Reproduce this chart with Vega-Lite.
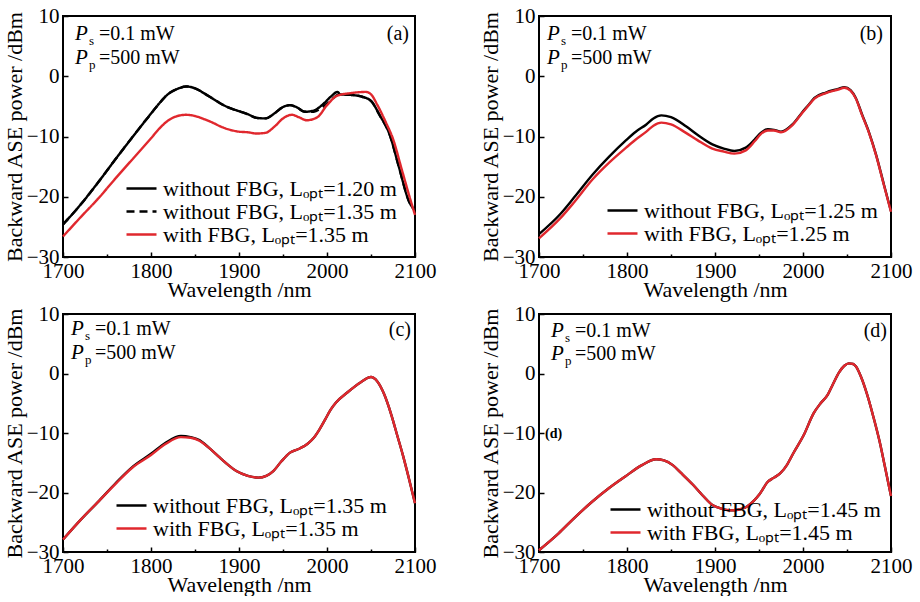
{
"$schema": "https://vega.github.io/schema/vega-lite/v6.json",
"padding": {"left": 2, "top": 4, "right": 0, "bottom": 0},
"bounds": "flush",
"columns": 2,
"spacing": {"row": 57, "column": 124},
"datasets": {
"a": [
{"series":"without FBG, Lₒₚₜ=1.20 m","wl":1700,"p":-24.6},{"series":"without FBG, Lₒₚₜ=1.20 m","wl":1720,"p":-21.3},{"series":"without FBG, Lₒₚₜ=1.20 m","wl":1740,"p":-17.6},{"series":"without FBG, Lₒₚₜ=1.20 m","wl":1760,"p":-13.7},{"series":"without FBG, Lₒₚₜ=1.20 m","wl":1780,"p":-9.9},{"series":"without FBG, Lₒₚₜ=1.20 m","wl":1800,"p":-6.2},{"series":"without FBG, Lₒₚₜ=1.20 m","wl":1810,"p":-4.4},{"series":"without FBG, Lₒₚₜ=1.20 m","wl":1820,"p":-2.9},{"series":"without FBG, Lₒₚₜ=1.20 m","wl":1830,"p":-2.1},{"series":"without FBG, Lₒₚₜ=1.20 m","wl":1840,"p":-1.7},{"series":"without FBG, Lₒₚₜ=1.20 m","wl":1850,"p":-2.0},{"series":"without FBG, Lₒₚₜ=1.20 m","wl":1860,"p":-2.8},{"series":"without FBG, Lₒₚₜ=1.20 m","wl":1870,"p":-3.7},{"series":"without FBG, Lₒₚₜ=1.20 m","wl":1880,"p":-4.6},{"series":"without FBG, Lₒₚₜ=1.20 m","wl":1890,"p":-5.3},{"series":"without FBG, Lₒₚₜ=1.20 m","wl":1900,"p":-5.8},{"series":"without FBG, Lₒₚₜ=1.20 m","wl":1910,"p":-6.3},{"series":"without FBG, Lₒₚₜ=1.20 m","wl":1920,"p":-6.9},{"series":"without FBG, Lₒₚₜ=1.20 m","wl":1930,"p":-7.0},{"series":"without FBG, Lₒₚₜ=1.20 m","wl":1940,"p":-6.2},{"series":"without FBG, Lₒₚₜ=1.20 m","wl":1950,"p":-5.1},{"series":"without FBG, Lₒₚₜ=1.20 m","wl":1958,"p":-4.8},{"series":"without FBG, Lₒₚₜ=1.20 m","wl":1965,"p":-5.1},{"series":"without FBG, Lₒₚₜ=1.20 m","wl":1975,"p":-5.9},{"series":"without FBG, Lₒₚₜ=1.20 m","wl":1985,"p":-5.7},{"series":"without FBG, Lₒₚₜ=1.20 m","wl":1995,"p":-4.7},{"series":"without FBG, Lₒₚₜ=1.20 m","wl":2005,"p":-3.3},{"series":"without FBG, Lₒₚₜ=1.20 m","wl":2012,"p":-2.6},{"series":"without FBG, Lₒₚₜ=1.20 m","wl":2015,"p":-3.0},{"series":"without FBG, Lₒₚₜ=1.20 m","wl":2027,"p":-3.1},{"series":"without FBG, Lₒₚₜ=1.20 m","wl":2040,"p":-3.4},{"series":"without FBG, Lₒₚₜ=1.20 m","wl":2050,"p":-4.1},{"series":"without FBG, Lₒₚₜ=1.20 m","wl":2060,"p":-6.5},{"series":"without FBG, Lₒₚₜ=1.20 m","wl":2071,"p":-9.6},{"series":"without FBG, Lₒₚₜ=1.20 m","wl":2082,"p":-15.2},{"series":"without FBG, Lₒₚₜ=1.20 m","wl":2093,"p":-20.7},{"series":"without FBG, Lₒₚₜ=1.20 m","wl":2100,"p":-22.3},
{"series":"without FBG, Lₒₚₜ=1.35 m","wl":1700,"p":-24.6},{"series":"without FBG, Lₒₚₜ=1.35 m","wl":1720,"p":-21.3},{"series":"without FBG, Lₒₚₜ=1.35 m","wl":1740,"p":-17.6},{"series":"without FBG, Lₒₚₜ=1.35 m","wl":1760,"p":-13.7},{"series":"without FBG, Lₒₚₜ=1.35 m","wl":1780,"p":-9.9},{"series":"without FBG, Lₒₚₜ=1.35 m","wl":1800,"p":-6.2},{"series":"without FBG, Lₒₚₜ=1.35 m","wl":1810,"p":-4.4},{"series":"without FBG, Lₒₚₜ=1.35 m","wl":1820,"p":-2.9},{"series":"without FBG, Lₒₚₜ=1.35 m","wl":1830,"p":-2.1},{"series":"without FBG, Lₒₚₜ=1.35 m","wl":1840,"p":-1.7},{"series":"without FBG, Lₒₚₜ=1.35 m","wl":1850,"p":-2.0},{"series":"without FBG, Lₒₚₜ=1.35 m","wl":1860,"p":-2.8},{"series":"without FBG, Lₒₚₜ=1.35 m","wl":1870,"p":-3.7},{"series":"without FBG, Lₒₚₜ=1.35 m","wl":1880,"p":-4.6},{"series":"without FBG, Lₒₚₜ=1.35 m","wl":1890,"p":-5.3},{"series":"without FBG, Lₒₚₜ=1.35 m","wl":1900,"p":-5.8},{"series":"without FBG, Lₒₚₜ=1.35 m","wl":1910,"p":-6.3},{"series":"without FBG, Lₒₚₜ=1.35 m","wl":1920,"p":-6.9},{"series":"without FBG, Lₒₚₜ=1.35 m","wl":1930,"p":-7.0},{"series":"without FBG, Lₒₚₜ=1.35 m","wl":1940,"p":-6.2},{"series":"without FBG, Lₒₚₜ=1.35 m","wl":1950,"p":-5.1},{"series":"without FBG, Lₒₚₜ=1.35 m","wl":1958,"p":-4.8},{"series":"without FBG, Lₒₚₜ=1.35 m","wl":1965,"p":-5.1},{"series":"without FBG, Lₒₚₜ=1.35 m","wl":1975,"p":-5.9},{"series":"without FBG, Lₒₚₜ=1.35 m","wl":1985,"p":-5.9},{"series":"without FBG, Lₒₚₜ=1.35 m","wl":1995,"p":-5.1},{"series":"without FBG, Lₒₚₜ=1.35 m","wl":2005,"p":-3.9},{"series":"without FBG, Lₒₚₜ=1.35 m","wl":2012,"p":-3.1},{"series":"without FBG, Lₒₚₜ=1.35 m","wl":2015,"p":-3.0},{"series":"without FBG, Lₒₚₜ=1.35 m","wl":2027,"p":-3.1},{"series":"without FBG, Lₒₚₜ=1.35 m","wl":2040,"p":-3.4},{"series":"without FBG, Lₒₚₜ=1.35 m","wl":2050,"p":-4.1},{"series":"without FBG, Lₒₚₜ=1.35 m","wl":2060,"p":-6.5},{"series":"without FBG, Lₒₚₜ=1.35 m","wl":2071,"p":-9.6},{"series":"without FBG, Lₒₚₜ=1.35 m","wl":2082,"p":-15.2},{"series":"without FBG, Lₒₚₜ=1.35 m","wl":2093,"p":-20.7},{"series":"without FBG, Lₒₚₜ=1.35 m","wl":2100,"p":-22.3},
{"series":"with FBG, Lₒₚₜ=1.35 m","wl":1700,"p":-26.6},{"series":"with FBG, Lₒₚₜ=1.35 m","wl":1720,"p":-23.4},{"series":"with FBG, Lₒₚₜ=1.35 m","wl":1740,"p":-20.3},{"series":"with FBG, Lₒₚₜ=1.35 m","wl":1760,"p":-16.9},{"series":"with FBG, Lₒₚₜ=1.35 m","wl":1780,"p":-13.6},{"series":"with FBG, Lₒₚₜ=1.35 m","wl":1800,"p":-10.3},{"series":"with FBG, Lₒₚₜ=1.35 m","wl":1810,"p":-8.6},{"series":"with FBG, Lₒₚₜ=1.35 m","wl":1820,"p":-7.3},{"series":"with FBG, Lₒₚₜ=1.35 m","wl":1830,"p":-6.6},{"series":"with FBG, Lₒₚₜ=1.35 m","wl":1840,"p":-6.4},{"series":"with FBG, Lₒₚₜ=1.35 m","wl":1850,"p":-6.6},{"series":"with FBG, Lₒₚₜ=1.35 m","wl":1860,"p":-7.1},{"series":"with FBG, Lₒₚₜ=1.35 m","wl":1870,"p":-7.7},{"series":"with FBG, Lₒₚₜ=1.35 m","wl":1880,"p":-8.4},{"series":"with FBG, Lₒₚₜ=1.35 m","wl":1890,"p":-8.9},{"series":"with FBG, Lₒₚₜ=1.35 m","wl":1900,"p":-9.2},{"series":"with FBG, Lₒₚₜ=1.35 m","wl":1910,"p":-9.3},{"series":"with FBG, Lₒₚₜ=1.35 m","wl":1920,"p":-9.5},{"series":"with FBG, Lₒₚₜ=1.35 m","wl":1930,"p":-9.4},{"series":"with FBG, Lₒₚₜ=1.35 m","wl":1940,"p":-8.4},{"series":"with FBG, Lₒₚₜ=1.35 m","wl":1950,"p":-7.0},{"series":"with FBG, Lₒₚₜ=1.35 m","wl":1960,"p":-6.4},{"series":"with FBG, Lₒₚₜ=1.35 m","wl":1968,"p":-6.8},{"series":"with FBG, Lₒₚₜ=1.35 m","wl":1977,"p":-7.3},{"series":"with FBG, Lₒₚₜ=1.35 m","wl":1989,"p":-6.8},{"series":"with FBG, Lₒₚₜ=1.35 m","wl":2000,"p":-4.8},{"series":"with FBG, Lₒₚₜ=1.35 m","wl":2012,"p":-3.2},{"series":"with FBG, Lₒₚₜ=1.35 m","wl":2027,"p":-2.8},{"series":"with FBG, Lₒₚₜ=1.35 m","wl":2044,"p":-2.6},{"series":"with FBG, Lₒₚₜ=1.35 m","wl":2050,"p":-3.0},{"series":"with FBG, Lₒₚₜ=1.35 m","wl":2057,"p":-4.7},{"series":"with FBG, Lₒₚₜ=1.35 m","wl":2067,"p":-7.7},{"series":"with FBG, Lₒₚₜ=1.35 m","wl":2075,"p":-10.4},{"series":"with FBG, Lₒₚₜ=1.35 m","wl":2085,"p":-15.5},{"series":"with FBG, Lₒₚₜ=1.35 m","wl":2095,"p":-20.6},{"series":"with FBG, Lₒₚₜ=1.35 m","wl":2100,"p":-23.0}
],
"b": [
{"series":"without FBG, Lₒₚₜ=1.25 m","wl":1700,"p":-26.2},{"series":"without FBG, Lₒₚₜ=1.25 m","wl":1724,"p":-22.9},{"series":"without FBG, Lₒₚₜ=1.25 m","wl":1740,"p":-20.1},{"series":"without FBG, Lₒₚₜ=1.25 m","wl":1761,"p":-16.3},{"series":"without FBG, Lₒₚₜ=1.25 m","wl":1780,"p":-13.3},{"series":"without FBG, Lₒₚₜ=1.25 m","wl":1799,"p":-10.6},{"series":"without FBG, Lₒₚₜ=1.25 m","wl":1810,"p":-9.2},{"series":"without FBG, Lₒₚₜ=1.25 m","wl":1822,"p":-8.0},{"series":"without FBG, Lₒₚₜ=1.25 m","wl":1830,"p":-7.0},{"series":"without FBG, Lₒₚₜ=1.25 m","wl":1839,"p":-6.5},{"series":"without FBG, Lₒₚₜ=1.25 m","wl":1850,"p":-6.8},{"series":"without FBG, Lₒₚₜ=1.25 m","wl":1867,"p":-8.3},{"series":"without FBG, Lₒₚₜ=1.25 m","wl":1880,"p":-9.7},{"series":"without FBG, Lₒₚₜ=1.25 m","wl":1897,"p":-11.3},{"series":"without FBG, Lₒₚₜ=1.25 m","wl":1910,"p":-12.0},{"series":"without FBG, Lₒₚₜ=1.25 m","wl":1922,"p":-12.4},{"series":"without FBG, Lₒₚₜ=1.25 m","wl":1935,"p":-11.85},{"series":"without FBG, Lₒₚₜ=1.25 m","wl":1945,"p":-10.5},{"series":"without FBG, Lₒₚₜ=1.25 m","wl":1952,"p":-9.4},{"series":"without FBG, Lₒₚₜ=1.25 m","wl":1960,"p":-8.8},{"series":"without FBG, Lₒₚₜ=1.25 m","wl":1967,"p":-8.9},{"series":"without FBG, Lₒₚₜ=1.25 m","wl":1975,"p":-9.2},{"series":"without FBG, Lₒₚₜ=1.25 m","wl":1988,"p":-8.0},{"series":"without FBG, Lₒₚₜ=1.25 m","wl":1999,"p":-6.0},{"series":"without FBG, Lₒₚₜ=1.25 m","wl":2006,"p":-4.8},{"series":"without FBG, Lₒₚₜ=1.25 m","wl":2013,"p":-3.6},{"series":"without FBG, Lₒₚₜ=1.25 m","wl":2026,"p":-2.7},{"series":"without FBG, Lₒₚₜ=1.25 m","wl":2040,"p":-2.1},{"series":"without FBG, Lₒₚₜ=1.25 m","wl":2047,"p":-1.8},{"series":"without FBG, Lₒₚₜ=1.25 m","wl":2054,"p":-2.3},{"series":"without FBG, Lₒₚₜ=1.25 m","wl":2060,"p":-3.6},{"series":"without FBG, Lₒₚₜ=1.25 m","wl":2067,"p":-6.3},{"series":"without FBG, Lₒₚₜ=1.25 m","wl":2075,"p":-9.3},{"series":"without FBG, Lₒₚₜ=1.25 m","wl":2083,"p":-13.0},{"series":"without FBG, Lₒₚₜ=1.25 m","wl":2092,"p":-18.0},{"series":"without FBG, Lₒₚₜ=1.25 m","wl":2100,"p":-22.4},
{"series":"with FBG, Lₒₚₜ=1.25 m","wl":1700,"p":-26.9},{"series":"with FBG, Lₒₚₜ=1.25 m","wl":1724,"p":-23.6},{"series":"with FBG, Lₒₚₜ=1.25 m","wl":1740,"p":-20.9},{"series":"with FBG, Lₒₚₜ=1.25 m","wl":1761,"p":-17.1},{"series":"with FBG, Lₒₚₜ=1.25 m","wl":1780,"p":-14.3},{"series":"with FBG, Lₒₚₜ=1.25 m","wl":1799,"p":-11.85},{"series":"with FBG, Lₒₚₜ=1.25 m","wl":1810,"p":-10.5},{"series":"with FBG, Lₒₚₜ=1.25 m","wl":1822,"p":-9.2},{"series":"with FBG, Lₒₚₜ=1.25 m","wl":1830,"p":-8.2},{"series":"with FBG, Lₒₚₜ=1.25 m","wl":1839,"p":-7.7},{"series":"with FBG, Lₒₚₜ=1.25 m","wl":1850,"p":-8.0},{"series":"with FBG, Lₒₚₜ=1.25 m","wl":1867,"p":-9.4},{"series":"with FBG, Lₒₚₜ=1.25 m","wl":1880,"p":-10.6},{"series":"with FBG, Lₒₚₜ=1.25 m","wl":1897,"p":-12.0},{"series":"with FBG, Lₒₚₜ=1.25 m","wl":1910,"p":-12.5},{"series":"with FBG, Lₒₚₜ=1.25 m","wl":1922,"p":-12.85},{"series":"with FBG, Lₒₚₜ=1.25 m","wl":1935,"p":-12.3},{"series":"with FBG, Lₒₚₜ=1.25 m","wl":1945,"p":-10.8},{"series":"with FBG, Lₒₚₜ=1.25 m","wl":1952,"p":-9.6},{"series":"with FBG, Lₒₚₜ=1.25 m","wl":1960,"p":-9.0},{"series":"with FBG, Lₒₚₜ=1.25 m","wl":1967,"p":-9.0},{"series":"with FBG, Lₒₚₜ=1.25 m","wl":1975,"p":-9.3},{"series":"with FBG, Lₒₚₜ=1.25 m","wl":1988,"p":-8.1},{"series":"with FBG, Lₒₚₜ=1.25 m","wl":1999,"p":-6.1},{"series":"with FBG, Lₒₚₜ=1.25 m","wl":2006,"p":-4.9},{"series":"with FBG, Lₒₚₜ=1.25 m","wl":2013,"p":-3.7},{"series":"with FBG, Lₒₚₜ=1.25 m","wl":2026,"p":-2.8},{"series":"with FBG, Lₒₚₜ=1.25 m","wl":2040,"p":-2.2},{"series":"with FBG, Lₒₚₜ=1.25 m","wl":2047,"p":-1.9},{"series":"with FBG, Lₒₚₜ=1.25 m","wl":2054,"p":-2.4},{"series":"with FBG, Lₒₚₜ=1.25 m","wl":2060,"p":-3.7},{"series":"with FBG, Lₒₚₜ=1.25 m","wl":2067,"p":-6.4},{"series":"with FBG, Lₒₚₜ=1.25 m","wl":2075,"p":-9.4},{"series":"with FBG, Lₒₚₜ=1.25 m","wl":2083,"p":-13.1},{"series":"with FBG, Lₒₚₜ=1.25 m","wl":2092,"p":-18.1},{"series":"with FBG, Lₒₚₜ=1.25 m","wl":2100,"p":-22.5}
],
"c": [
{"series":"without FBG, Lₒₚₜ=1.35 m","wl":1700,"p":-27.9},{"series":"without FBG, Lₒₚₜ=1.35 m","wl":1720,"p":-24.6},{"series":"without FBG, Lₒₚₜ=1.35 m","wl":1741,"p":-21.4},{"series":"without FBG, Lₒₚₜ=1.35 m","wl":1760,"p":-18.4},{"series":"without FBG, Lₒₚₜ=1.35 m","wl":1779,"p":-15.7},{"series":"without FBG, Lₒₚₜ=1.35 m","wl":1800,"p":-13.5},{"series":"without FBG, Lₒₚₜ=1.35 m","wl":1817,"p":-11.6},{"series":"without FBG, Lₒₚₜ=1.35 m","wl":1834,"p":-10.5},{"series":"without FBG, Lₒₚₜ=1.35 m","wl":1845,"p":-10.7},{"series":"without FBG, Lₒₚₜ=1.35 m","wl":1855,"p":-11.2},{"series":"without FBG, Lₒₚₜ=1.35 m","wl":1866,"p":-12.5},{"series":"without FBG, Lₒₚₜ=1.35 m","wl":1878,"p":-14.1},{"series":"without FBG, Lₒₚₜ=1.35 m","wl":1888,"p":-15.4},{"series":"without FBG, Lₒₚₜ=1.35 m","wl":1897,"p":-16.4},{"series":"without FBG, Lₒₚₜ=1.35 m","wl":1910,"p":-17.2},{"series":"without FBG, Lₒₚₜ=1.35 m","wl":1922,"p":-17.5},{"series":"without FBG, Lₒₚₜ=1.35 m","wl":1931,"p":-17.2},{"series":"without FBG, Lₒₚₜ=1.35 m","wl":1939,"p":-16.4},{"series":"without FBG, Lₒₚₜ=1.35 m","wl":1948,"p":-14.8},{"series":"without FBG, Lₒₚₜ=1.35 m","wl":1958,"p":-13.3},{"series":"without FBG, Lₒₚₜ=1.35 m","wl":1969,"p":-12.6},{"series":"without FBG, Lₒₚₜ=1.35 m","wl":1978,"p":-11.8},{"series":"without FBG, Lₒₚₜ=1.35 m","wl":1985,"p":-10.8},{"series":"without FBG, Lₒₚₜ=1.35 m","wl":1991,"p":-9.5},{"series":"without FBG, Lₒₚₜ=1.35 m","wl":1998,"p":-7.7},{"series":"without FBG, Lₒₚₜ=1.35 m","wl":2004,"p":-6.1},{"series":"without FBG, Lₒₚₜ=1.35 m","wl":2010,"p":-4.9},{"series":"without FBG, Lₒₚₜ=1.35 m","wl":2023,"p":-3.2},{"series":"without FBG, Lₒₚₜ=1.35 m","wl":2038,"p":-1.5},{"series":"without FBG, Lₒₚₜ=1.35 m","wl":2050,"p":-0.6},{"series":"without FBG, Lₒₚₜ=1.35 m","wl":2057,"p":-1.3},{"series":"without FBG, Lₒₚₜ=1.35 m","wl":2065,"p":-3.5},{"series":"without FBG, Lₒₚₜ=1.35 m","wl":2073,"p":-6.9},{"series":"without FBG, Lₒₚₜ=1.35 m","wl":2080,"p":-10.5},{"series":"without FBG, Lₒₚₜ=1.35 m","wl":2086,"p":-13.6},{"series":"without FBG, Lₒₚₜ=1.35 m","wl":2093,"p":-17.6},{"series":"without FBG, Lₒₚₜ=1.35 m","wl":2100,"p":-21.8},
{"series":"with FBG, Lₒₚₜ=1.35 m","wl":1700,"p":-27.9},{"series":"with FBG, Lₒₚₜ=1.35 m","wl":1720,"p":-24.6},{"series":"with FBG, Lₒₚₜ=1.35 m","wl":1741,"p":-21.4},{"series":"with FBG, Lₒₚₜ=1.35 m","wl":1760,"p":-18.5},{"series":"with FBG, Lₒₚₜ=1.35 m","wl":1779,"p":-15.8},{"series":"with FBG, Lₒₚₜ=1.35 m","wl":1800,"p":-13.7},{"series":"with FBG, Lₒₚₜ=1.35 m","wl":1817,"p":-11.8},{"series":"with FBG, Lₒₚₜ=1.35 m","wl":1834,"p":-10.7},{"series":"with FBG, Lₒₚₜ=1.35 m","wl":1845,"p":-10.8},{"series":"with FBG, Lₒₚₜ=1.35 m","wl":1855,"p":-11.3},{"series":"with FBG, Lₒₚₜ=1.35 m","wl":1866,"p":-12.5},{"series":"with FBG, Lₒₚₜ=1.35 m","wl":1878,"p":-14.1},{"series":"with FBG, Lₒₚₜ=1.35 m","wl":1888,"p":-15.4},{"series":"with FBG, Lₒₚₜ=1.35 m","wl":1897,"p":-16.4},{"series":"with FBG, Lₒₚₜ=1.35 m","wl":1910,"p":-17.2},{"series":"with FBG, Lₒₚₜ=1.35 m","wl":1922,"p":-17.5},{"series":"with FBG, Lₒₚₜ=1.35 m","wl":1931,"p":-17.2},{"series":"with FBG, Lₒₚₜ=1.35 m","wl":1939,"p":-16.4},{"series":"with FBG, Lₒₚₜ=1.35 m","wl":1948,"p":-14.8},{"series":"with FBG, Lₒₚₜ=1.35 m","wl":1958,"p":-13.3},{"series":"with FBG, Lₒₚₜ=1.35 m","wl":1969,"p":-12.6},{"series":"with FBG, Lₒₚₜ=1.35 m","wl":1978,"p":-11.8},{"series":"with FBG, Lₒₚₜ=1.35 m","wl":1985,"p":-10.8},{"series":"with FBG, Lₒₚₜ=1.35 m","wl":1991,"p":-9.5},{"series":"with FBG, Lₒₚₜ=1.35 m","wl":1998,"p":-7.7},{"series":"with FBG, Lₒₚₜ=1.35 m","wl":2004,"p":-6.1},{"series":"with FBG, Lₒₚₜ=1.35 m","wl":2010,"p":-4.9},{"series":"with FBG, Lₒₚₜ=1.35 m","wl":2023,"p":-3.2},{"series":"with FBG, Lₒₚₜ=1.35 m","wl":2038,"p":-1.5},{"series":"with FBG, Lₒₚₜ=1.35 m","wl":2050,"p":-0.6},{"series":"with FBG, Lₒₚₜ=1.35 m","wl":2057,"p":-1.3},{"series":"with FBG, Lₒₚₜ=1.35 m","wl":2065,"p":-3.5},{"series":"with FBG, Lₒₚₜ=1.35 m","wl":2073,"p":-6.9},{"series":"with FBG, Lₒₚₜ=1.35 m","wl":2080,"p":-10.5},{"series":"with FBG, Lₒₚₜ=1.35 m","wl":2086,"p":-13.6},{"series":"with FBG, Lₒₚₜ=1.35 m","wl":2093,"p":-17.6},{"series":"with FBG, Lₒₚₜ=1.35 m","wl":2100,"p":-21.8}
],
"d": [
{"series":"without FBG, Lₒₚₜ=1.45 m","wl":1700,"p":-29.7},{"series":"without FBG, Lₒₚₜ=1.45 m","wl":1722,"p":-26.9},{"series":"without FBG, Lₒₚₜ=1.45 m","wl":1740,"p":-24.3},{"series":"without FBG, Lₒₚₜ=1.45 m","wl":1760,"p":-21.6},{"series":"without FBG, Lₒₚₜ=1.45 m","wl":1780,"p":-19.2},{"series":"without FBG, Lₒₚₜ=1.45 m","wl":1798,"p":-17.3},{"series":"without FBG, Lₒₚₜ=1.45 m","wl":1817,"p":-15.4},{"series":"without FBG, Lₒₚₜ=1.45 m","wl":1833,"p":-14.4},{"series":"without FBG, Lₒₚₜ=1.45 m","wl":1842,"p":-14.6},{"series":"without FBG, Lₒₚₜ=1.45 m","wl":1852,"p":-15.4},{"series":"without FBG, Lₒₚₜ=1.45 m","wl":1862,"p":-16.8},{"series":"without FBG, Lₒₚₜ=1.45 m","wl":1875,"p":-18.7},{"series":"without FBG, Lₒₚₜ=1.45 m","wl":1886,"p":-20.5},{"series":"without FBG, Lₒₚₜ=1.45 m","wl":1897,"p":-22.1},{"series":"without FBG, Lₒₚₜ=1.45 m","wl":1907,"p":-22.7},{"series":"without FBG, Lₒₚₜ=1.45 m","wl":1917,"p":-23.0},{"series":"without FBG, Lₒₚₜ=1.45 m","wl":1926,"p":-22.9},{"series":"without FBG, Lₒₚₜ=1.45 m","wl":1936,"p":-22.4},{"series":"without FBG, Lₒₚₜ=1.45 m","wl":1944,"p":-21.4},{"series":"without FBG, Lₒₚₜ=1.45 m","wl":1951,"p":-20.2},{"series":"without FBG, Lₒₚₜ=1.45 m","wl":1960,"p":-18.2},{"series":"without FBG, Lₒₚₜ=1.45 m","wl":1967,"p":-17.5},{"series":"without FBG, Lₒₚₜ=1.45 m","wl":1974,"p":-16.8},{"series":"without FBG, Lₒₚₜ=1.45 m","wl":1982,"p":-15.3},{"series":"without FBG, Lₒₚₜ=1.45 m","wl":1989,"p":-13.4},{"series":"without FBG, Lₒₚₜ=1.45 m","wl":2001,"p":-10.3},{"series":"without FBG, Lₒₚₜ=1.45 m","wl":2012,"p":-6.7},{"series":"without FBG, Lₒₚₜ=1.45 m","wl":2020,"p":-5.0},{"series":"without FBG, Lₒₚₜ=1.45 m","wl":2028,"p":-3.6},{"series":"without FBG, Lₒₚₜ=1.45 m","wl":2034,"p":-1.8},{"series":"without FBG, Lₒₚₜ=1.45 m","wl":2041,"p":0.2},{"series":"without FBG, Lₒₚₜ=1.45 m","wl":2047,"p":1.3},{"series":"without FBG, Lₒₚₜ=1.45 m","wl":2052,"p":1.7},{"series":"without FBG, Lₒₚₜ=1.45 m","wl":2057,"p":1.6},{"series":"without FBG, Lₒₚₜ=1.45 m","wl":2060,"p":1.2},{"series":"without FBG, Lₒₚₜ=1.45 m","wl":2066,"p":-0.6},{"series":"without FBG, Lₒₚₜ=1.45 m","wl":2073,"p":-3.6},{"series":"without FBG, Lₒₚₜ=1.45 m","wl":2080,"p":-7.3},{"series":"without FBG, Lₒₚₜ=1.45 m","wl":2087,"p":-11.4},{"series":"without FBG, Lₒₚₜ=1.45 m","wl":2093,"p":-15.6},{"series":"without FBG, Lₒₚₜ=1.45 m","wl":2100,"p":-20.6},
{"series":"with FBG, Lₒₚₜ=1.45 m","wl":1700,"p":-29.7},{"series":"with FBG, Lₒₚₜ=1.45 m","wl":1722,"p":-26.9},{"series":"with FBG, Lₒₚₜ=1.45 m","wl":1740,"p":-24.3},{"series":"with FBG, Lₒₚₜ=1.45 m","wl":1760,"p":-21.6},{"series":"with FBG, Lₒₚₜ=1.45 m","wl":1780,"p":-19.2},{"series":"with FBG, Lₒₚₜ=1.45 m","wl":1798,"p":-17.3},{"series":"with FBG, Lₒₚₜ=1.45 m","wl":1817,"p":-15.4},{"series":"with FBG, Lₒₚₜ=1.45 m","wl":1833,"p":-14.4},{"series":"with FBG, Lₒₚₜ=1.45 m","wl":1842,"p":-14.6},{"series":"with FBG, Lₒₚₜ=1.45 m","wl":1852,"p":-15.4},{"series":"with FBG, Lₒₚₜ=1.45 m","wl":1862,"p":-16.8},{"series":"with FBG, Lₒₚₜ=1.45 m","wl":1875,"p":-18.7},{"series":"with FBG, Lₒₚₜ=1.45 m","wl":1886,"p":-20.5},{"series":"with FBG, Lₒₚₜ=1.45 m","wl":1897,"p":-22.1},{"series":"with FBG, Lₒₚₜ=1.45 m","wl":1907,"p":-22.7},{"series":"with FBG, Lₒₚₜ=1.45 m","wl":1917,"p":-23.0},{"series":"with FBG, Lₒₚₜ=1.45 m","wl":1926,"p":-22.9},{"series":"with FBG, Lₒₚₜ=1.45 m","wl":1936,"p":-22.4},{"series":"with FBG, Lₒₚₜ=1.45 m","wl":1944,"p":-21.4},{"series":"with FBG, Lₒₚₜ=1.45 m","wl":1951,"p":-20.2},{"series":"with FBG, Lₒₚₜ=1.45 m","wl":1960,"p":-18.2},{"series":"with FBG, Lₒₚₜ=1.45 m","wl":1967,"p":-17.5},{"series":"with FBG, Lₒₚₜ=1.45 m","wl":1974,"p":-16.8},{"series":"with FBG, Lₒₚₜ=1.45 m","wl":1982,"p":-15.3},{"series":"with FBG, Lₒₚₜ=1.45 m","wl":1989,"p":-13.4},{"series":"with FBG, Lₒₚₜ=1.45 m","wl":2001,"p":-10.3},{"series":"with FBG, Lₒₚₜ=1.45 m","wl":2012,"p":-6.7},{"series":"with FBG, Lₒₚₜ=1.45 m","wl":2020,"p":-5.0},{"series":"with FBG, Lₒₚₜ=1.45 m","wl":2028,"p":-3.6},{"series":"with FBG, Lₒₚₜ=1.45 m","wl":2034,"p":-1.8},{"series":"with FBG, Lₒₚₜ=1.45 m","wl":2041,"p":0.2},{"series":"with FBG, Lₒₚₜ=1.45 m","wl":2047,"p":1.3},{"series":"with FBG, Lₒₚₜ=1.45 m","wl":2052,"p":1.7},{"series":"with FBG, Lₒₚₜ=1.45 m","wl":2057,"p":1.6},{"series":"with FBG, Lₒₚₜ=1.45 m","wl":2060,"p":1.2},{"series":"with FBG, Lₒₚₜ=1.45 m","wl":2066,"p":-0.6},{"series":"with FBG, Lₒₚₜ=1.45 m","wl":2073,"p":-3.6},{"series":"with FBG, Lₒₚₜ=1.45 m","wl":2080,"p":-7.3},{"series":"with FBG, Lₒₚₜ=1.45 m","wl":2087,"p":-11.4},{"series":"with FBG, Lₒₚₜ=1.45 m","wl":2093,"p":-15.6},{"series":"with FBG, Lₒₚₜ=1.45 m","wl":2100,"p":-20.6}
]
},
"concat": [
{
"width": 352, "height": 241,
"layer": [
{"data": {"name": "a"}, "mark": {"type": "line", "interpolate": "monotone", "strokeWidth": 2.4},
 "encoding": {
  "x": {"field": "wl", "type": "quantitative", "scale": {"domain": [1700, 2100], "nice": false, "zero": false}, "axis": {"title": "Wavelength /nm", "values": [1700,1750,1800,1850,1900,1950,2000,2050,2100], "labelExpr": "datum.value % 100 === 0 ? format(datum.value, 'd') : ''", "tickSize": {"condition": {"test": "datum.value % 100 === 0", "value": -5}, "value": -3}}},
  "y": {"field": "p", "type": "quantitative", "scale": {"domain": [-30, 10], "nice": false, "zero": false}, "axis": {"title": "Backward ASE power /dBm", "values": [-30,-25,-20,-15,-10,-5,0,5,10], "labelExpr": "datum.value % 10 === 0 ? format(datum.value, 'd') : ''", "tickSize": {"condition": {"test": "datum.value % 10 === 0", "value": -5}, "value": -3}}},
  "color": {"field": "series", "type": "nominal", "title": null, "legend": {"orient": "none", "legendX": 67, "legendY": 161}, "scale": {"domain": ["without FBG, Lₒₚₜ=1.20 m", "without FBG, Lₒₚₜ=1.35 m", "with FBG, Lₒₚₜ=1.35 m"], "range": ["#000000", "#000000", "#e0282e"]}},
  "strokeDash": {"field": "series", "type": "nominal", "title": null, "legend": {"orient": "none", "legendX": 67, "legendY": 161}, "scale": {"domain": ["without FBG, Lₒₚₜ=1.20 m", "without FBG, Lₒₚₜ=1.35 m", "with FBG, Lₒₚₜ=1.35 m"], "range": [[1, 0], [8, 5], [1, 0]]}}
 }},
{"data": {"values": [{}]}, "mark": {"type": "text", "dx": 12, "fontStyle": "italic", "fontSize": 21}, "encoding": {"x": {"datum": 1700}, "y": {"datum": 7.0}, "text": {"value": "P"}}},
{"data": {"values": [{}]}, "mark": {"type": "text", "dx": 26, "dy": 7, "fontSize": 13}, "encoding": {"x": {"datum": 1700}, "y": {"datum": 7.0}, "text": {"value": "s"}}},
{"data": {"values": [{}]}, "mark": {"type": "text", "dx": 36}, "encoding": {"x": {"datum": 1700}, "y": {"datum": 7.0}, "text": {"value": "=0.1 mW"}}},
{"data": {"values": [{}]}, "mark": {"type": "text", "dx": 12, "fontStyle": "italic", "fontSize": 21}, "encoding": {"x": {"datum": 1700}, "y": {"datum": 3.0}, "text": {"value": "P"}}},
{"data": {"values": [{}]}, "mark": {"type": "text", "dx": 26, "dy": 7, "fontSize": 13}, "encoding": {"x": {"datum": 1700}, "y": {"datum": 3.0}, "text": {"value": "p"}}},
{"data": {"values": [{}]}, "mark": {"type": "text", "dx": 36}, "encoding": {"x": {"datum": 1700}, "y": {"datum": 3.0}, "text": {"value": "=500 mW"}}},
{"data": {"values": [{}]}, "mark": {"type": "text", "dx": -6, "align": "right"}, "encoding": {"x": {"datum": 2100}, "y": {"datum": 7.0}, "text": {"value": "(a)"}}}
]
},
{
"width": 352, "height": 241,
"layer": [
{"data": {"name": "b"}, "mark": {"type": "line", "interpolate": "monotone", "strokeWidth": 2.4},
 "encoding": {
  "x": {"field": "wl", "type": "quantitative", "scale": {"domain": [1700, 2100], "nice": false, "zero": false}, "axis": {"title": "Wavelength /nm", "values": [1700,1750,1800,1850,1900,1950,2000,2050,2100], "labelExpr": "datum.value % 100 === 0 ? format(datum.value, 'd') : ''", "tickSize": {"condition": {"test": "datum.value % 100 === 0", "value": -5}, "value": -3}}},
  "y": {"field": "p", "type": "quantitative", "scale": {"domain": [-30, 10], "nice": false, "zero": false}, "axis": {"title": "Backward ASE power /dBm", "values": [-30,-25,-20,-15,-10,-5,0,5,10], "labelExpr": "datum.value % 10 === 0 ? format(datum.value, 'd') : ''", "tickSize": {"condition": {"test": "datum.value % 10 === 0", "value": -5}, "value": -3}}},
  "color": {"field": "series", "type": "nominal", "title": null, "legend": {"orient": "none", "legendX": 72, "legendY": 183}, "scale": {"domain": ["without FBG, Lₒₚₜ=1.25 m", "with FBG, Lₒₚₜ=1.25 m"], "range": ["#000000", "#e0282e"]}}
 }},
{"data": {"values": [{}]}, "mark": {"type": "text", "dx": 8, "fontStyle": "italic", "fontSize": 21}, "encoding": {"x": {"datum": 1700}, "y": {"datum": 7.0}, "text": {"value": "P"}}},
{"data": {"values": [{}]}, "mark": {"type": "text", "dx": 22, "dy": 7, "fontSize": 13}, "encoding": {"x": {"datum": 1700}, "y": {"datum": 7.0}, "text": {"value": "s"}}},
{"data": {"values": [{}]}, "mark": {"type": "text", "dx": 32}, "encoding": {"x": {"datum": 1700}, "y": {"datum": 7.0}, "text": {"value": "=0.1 mW"}}},
{"data": {"values": [{}]}, "mark": {"type": "text", "dx": 8, "fontStyle": "italic", "fontSize": 21}, "encoding": {"x": {"datum": 1700}, "y": {"datum": 3.0}, "text": {"value": "P"}}},
{"data": {"values": [{}]}, "mark": {"type": "text", "dx": 22, "dy": 7, "fontSize": 13}, "encoding": {"x": {"datum": 1700}, "y": {"datum": 3.0}, "text": {"value": "p"}}},
{"data": {"values": [{}]}, "mark": {"type": "text", "dx": 32}, "encoding": {"x": {"datum": 1700}, "y": {"datum": 3.0}, "text": {"value": "=500 mW"}}},
{"data": {"values": [{}]}, "mark": {"type": "text", "dx": -8, "align": "right"}, "encoding": {"x": {"datum": 2100}, "y": {"datum": 7.0}, "text": {"value": "(b)"}}}
]
},
{
"width": 352, "height": 238,
"layer": [
{"data": {"name": "c"}, "mark": {"type": "line", "interpolate": "monotone", "strokeWidth": 2.4},
 "encoding": {
  "x": {"field": "wl", "type": "quantitative", "scale": {"domain": [1700, 2100], "nice": false, "zero": false}, "axis": {"title": "Wavelength /nm", "values": [1700,1750,1800,1850,1900,1950,2000,2050,2100], "labelExpr": "datum.value % 100 === 0 ? format(datum.value, 'd') : ''", "tickSize": {"condition": {"test": "datum.value % 100 === 0", "value": -5}, "value": -3}}},
  "y": {"field": "p", "type": "quantitative", "scale": {"domain": [-30, 10], "nice": false, "zero": false}, "axis": {"title": "Backward ASE power /dBm", "values": [-30,-25,-20,-15,-10,-5,0,5,10], "labelExpr": "datum.value % 10 === 0 ? format(datum.value, 'd') : ''", "tickSize": {"condition": {"test": "datum.value % 10 === 0", "value": -5}, "value": -3}}},
  "color": {"field": "series", "type": "nominal", "title": null, "legend": {"orient": "none", "legendX": 57, "legendY": 180}, "scale": {"domain": ["without FBG, Lₒₚₜ=1.35 m", "with FBG, Lₒₚₜ=1.35 m"], "range": ["#000000", "#e0282e"]}}
 }},
{"data": {"values": [{}]}, "mark": {"type": "text", "dx": 8, "fontStyle": "italic", "fontSize": 21}, "encoding": {"x": {"datum": 1700}, "y": {"datum": 7.5}, "text": {"value": "P"}}},
{"data": {"values": [{}]}, "mark": {"type": "text", "dx": 22, "dy": 7, "fontSize": 13}, "encoding": {"x": {"datum": 1700}, "y": {"datum": 7.5}, "text": {"value": "s"}}},
{"data": {"values": [{}]}, "mark": {"type": "text", "dx": 32}, "encoding": {"x": {"datum": 1700}, "y": {"datum": 7.5}, "text": {"value": "=0.1 mW"}}},
{"data": {"values": [{}]}, "mark": {"type": "text", "dx": 8, "fontStyle": "italic", "fontSize": 21}, "encoding": {"x": {"datum": 1700}, "y": {"datum": 3.4}, "text": {"value": "P"}}},
{"data": {"values": [{}]}, "mark": {"type": "text", "dx": 22, "dy": 7, "fontSize": 13}, "encoding": {"x": {"datum": 1700}, "y": {"datum": 3.4}, "text": {"value": "p"}}},
{"data": {"values": [{}]}, "mark": {"type": "text", "dx": 32}, "encoding": {"x": {"datum": 1700}, "y": {"datum": 3.4}, "text": {"value": "=500 mW"}}},
{"data": {"values": [{}]}, "mark": {"type": "text", "dx": -4, "align": "right"}, "encoding": {"x": {"datum": 2100}, "y": {"datum": 7.3}, "text": {"value": "(c)"}}}
]
},
{
"width": 352, "height": 238,
"layer": [
{"data": {"name": "d"}, "mark": {"type": "line", "interpolate": "monotone", "strokeWidth": 2.4},
 "encoding": {
  "x": {"field": "wl", "type": "quantitative", "scale": {"domain": [1700, 2100], "nice": false, "zero": false}, "axis": {"title": "Wavelength /nm", "values": [1700,1750,1800,1850,1900,1950,2000,2050,2100], "labelExpr": "datum.value % 100 === 0 ? format(datum.value, 'd') : ''", "tickSize": {"condition": {"test": "datum.value % 100 === 0", "value": -5}, "value": -3}}},
  "y": {"field": "p", "type": "quantitative", "scale": {"domain": [-30, 10], "nice": false, "zero": false}, "axis": {"title": "Backward ASE power /dBm", "values": [-30,-25,-20,-15,-10,-5,0,5,10], "labelExpr": "datum.value % 10 === 0 ? format(datum.value, 'd') : ''", "tickSize": {"condition": {"test": "datum.value % 10 === 0", "value": -5}, "value": -3}}},
  "color": {"field": "series", "type": "nominal", "title": null, "legend": {"orient": "none", "legendX": 75, "legendY": 184}, "scale": {"domain": ["without FBG, Lₒₚₜ=1.45 m", "with FBG, Lₒₚₜ=1.45 m"], "range": ["#000000", "#e0282e"]}}
 }},
{"data": {"values": [{}]}, "mark": {"type": "text", "dx": 12, "fontStyle": "italic", "fontSize": 21}, "encoding": {"x": {"datum": 1700}, "y": {"datum": 7.1}, "text": {"value": "P"}}},
{"data": {"values": [{}]}, "mark": {"type": "text", "dx": 26, "dy": 7, "fontSize": 13}, "encoding": {"x": {"datum": 1700}, "y": {"datum": 7.1}, "text": {"value": "s"}}},
{"data": {"values": [{}]}, "mark": {"type": "text", "dx": 36}, "encoding": {"x": {"datum": 1700}, "y": {"datum": 7.1}, "text": {"value": "=0.1 mW"}}},
{"data": {"values": [{}]}, "mark": {"type": "text", "dx": 12, "fontStyle": "italic", "fontSize": 21}, "encoding": {"x": {"datum": 1700}, "y": {"datum": 3.25}, "text": {"value": "P"}}},
{"data": {"values": [{}]}, "mark": {"type": "text", "dx": 26, "dy": 7, "fontSize": 13}, "encoding": {"x": {"datum": 1700}, "y": {"datum": 3.25}, "text": {"value": "p"}}},
{"data": {"values": [{}]}, "mark": {"type": "text", "dx": 36}, "encoding": {"x": {"datum": 1700}, "y": {"datum": 3.25}, "text": {"value": "=500 mW"}}},
{"data": {"values": [{}]}, "mark": {"type": "text", "dx": -4, "align": "right"}, "encoding": {"x": {"datum": 2100}, "y": {"datum": 7.2}, "text": {"value": "(d)"}}},
{"data": {"values": [{}]}, "mark": {"type": "text", "dx": 6, "fontSize": 14, "fontWeight": "bold"}, "encoding": {"x": {"datum": 1700}, "y": {"datum": -10.2}, "text": {"value": "(d)"}}}
]
}
],
"resolve": {"scale": {"color": "independent", "strokeDash": "independent"}},
"config": {
 "font": "Liberation Serif",
 "view": {"stroke": "#000000", "strokeWidth": 2},
 "text": {"font": "Liberation Serif", "fontSize": 20, "baseline": "middle", "align": "left", "color": "#000000"},
 "axis": {"domain": false, "grid": false, "labelFont": "Liberation Serif", "labelFontSize": 21, "labelColor": "#000000", "titleFont": "Liberation Serif", "titleFontSize": 22, "titleFontWeight": "normal", "titleColor": "#000000", "tickColor": "#000000", "tickWidth": 1.5, "labelFlush": false, "labelOverlap": false},
 "axisX": {"titlePadding": -4, "labelPadding": 8},
 "axisY": {"titlePadding": 0, "labelPadding": 9},
 "legend": {"padding": 0, "labelFont": "Liberation Serif", "labelFontSize": 22, "labelColor": "#000000", "labelLimit": 0, "labelOffset": 10, "symbolType": "M-1.5,0H1.5", "symbolSize": 400, "symbolStrokeWidth": 2.5, "rowPadding": 0}
}
}
